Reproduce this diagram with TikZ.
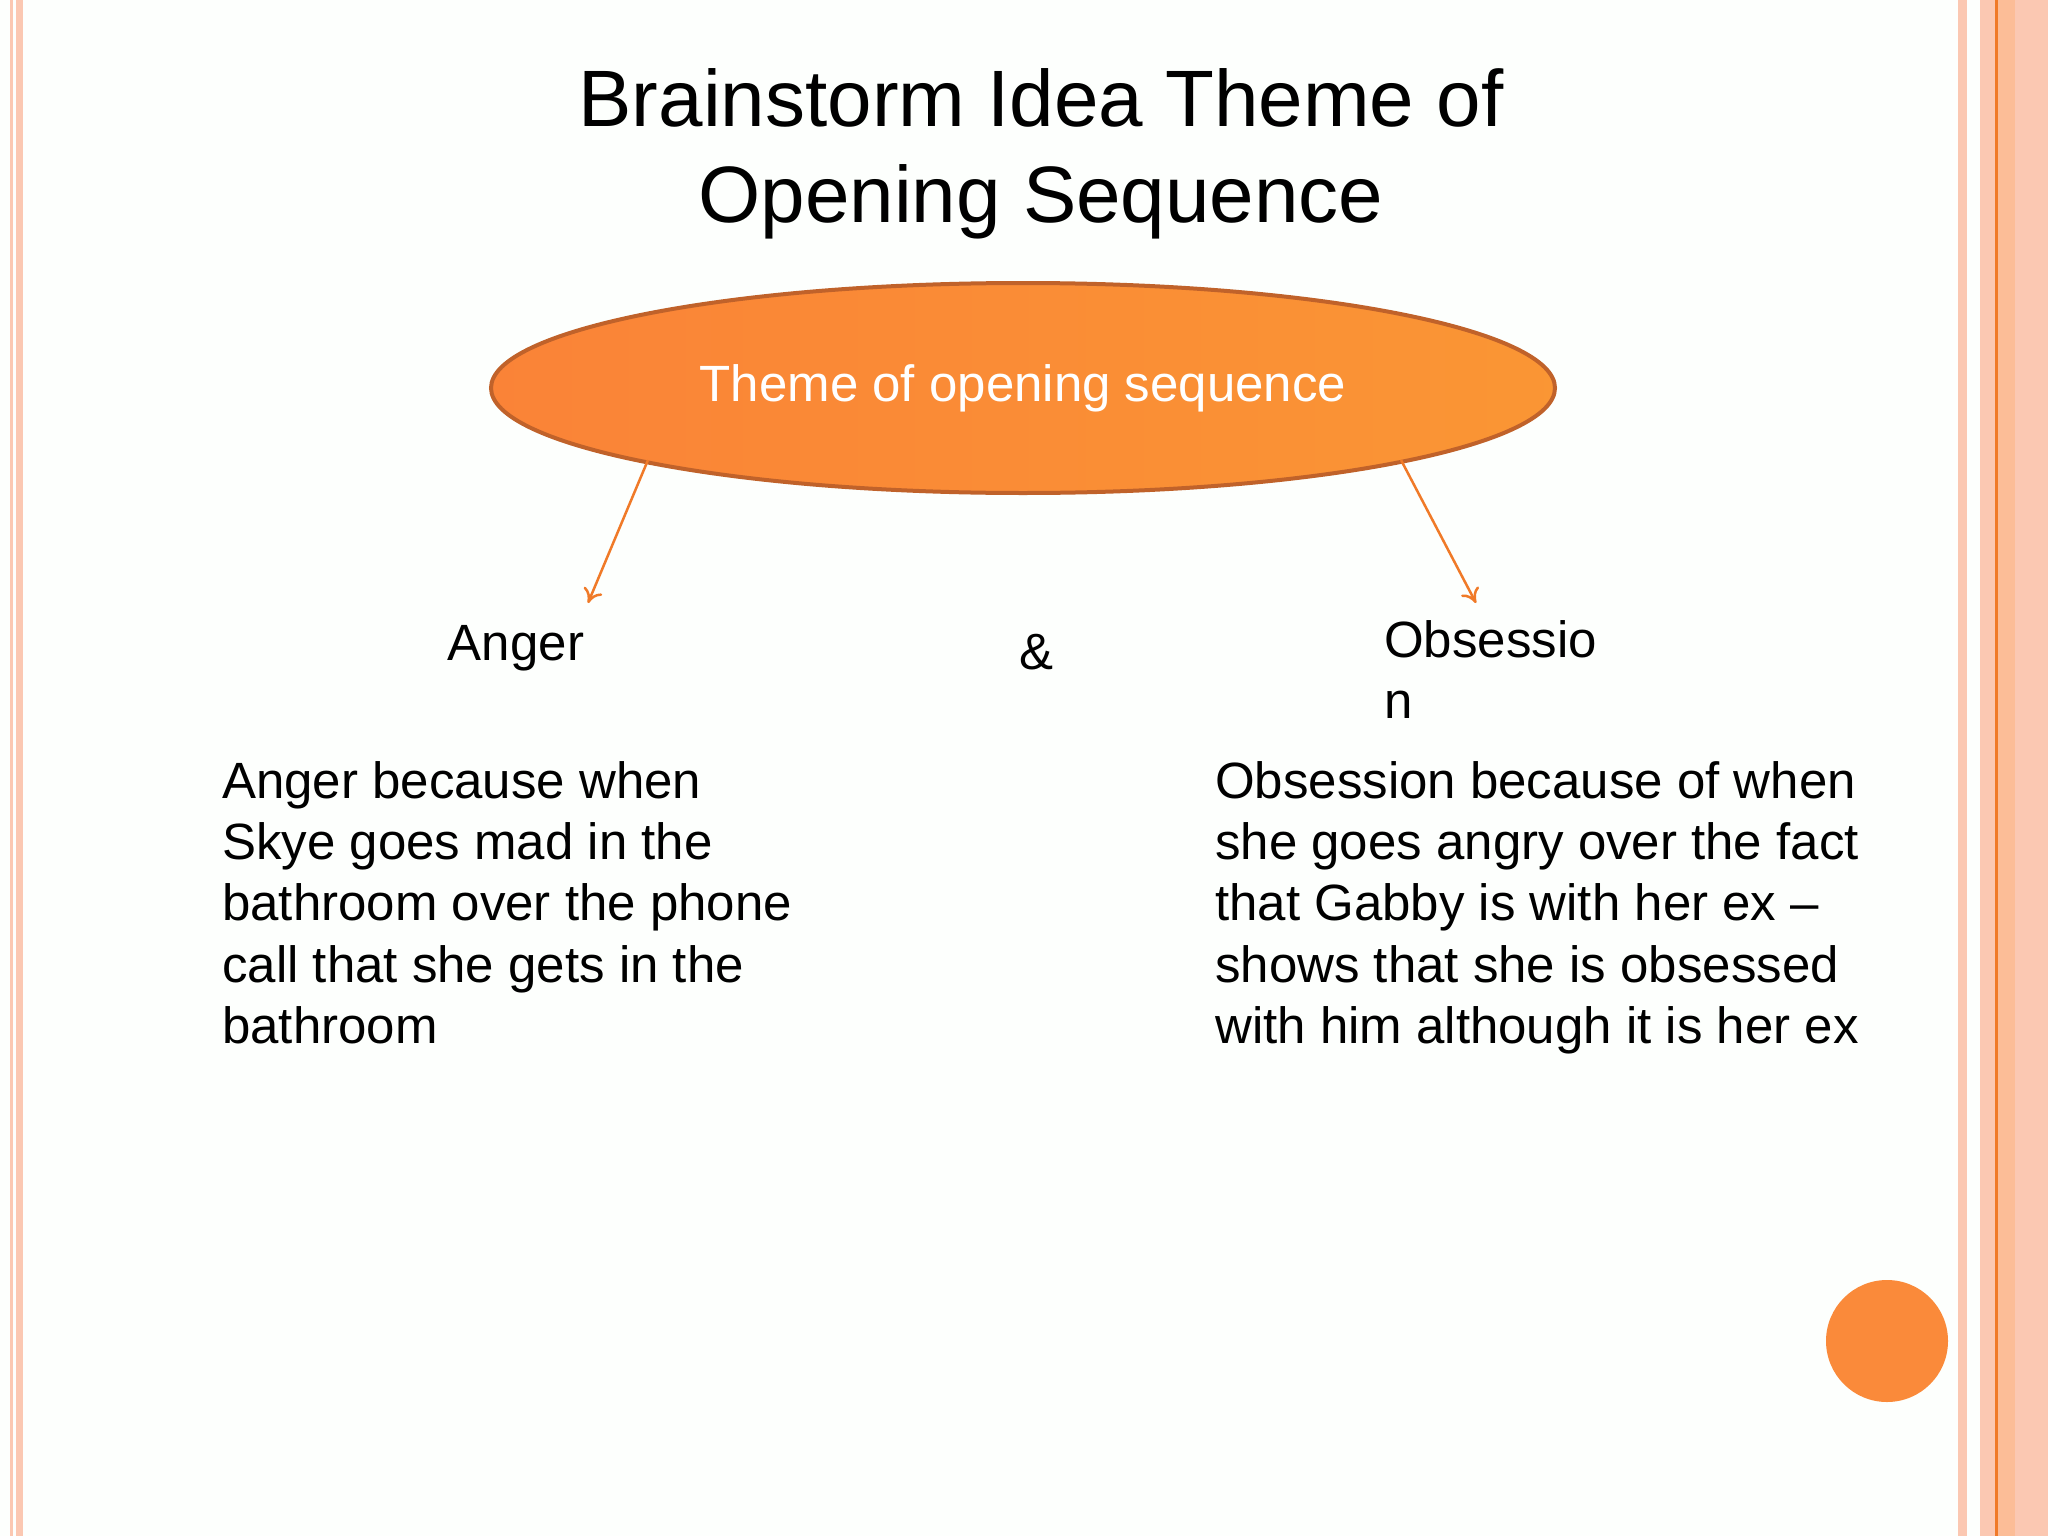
\documentclass[tikz,border=0pt]{standalone}
\usepackage{fontspec}
\setmainfont{Liberation Sans}
\usetikzlibrary{shapes.geometric,arrows.meta}
\definecolor{peach}{HTML}{FBC8B2}
\definecolor{orng}{HTML}{FA8A3A}
\definecolor{edgeor}{HTML}{C0622A}
\definecolor{arrowor}{HTML}{F07A28}
\tikzset{
  body/.style={font=\fontsize{51}{61.4}\selectfont, align=left, inner sep=0pt, anchor=north west, text=black},
  lbl/.style={font=\fontsize{51}{61.4}\selectfont, inner sep=0pt, text=black},
  conn/.style={draw=arrowor, line width=2.5pt, -{To[length=14pt,width=20pt]}}
}
\begin{document}
\begin{tikzpicture}[x=1pt,y=-1pt]
\useasboundingbox (0,0) rectangle (2048,1536);
\fill[white!97!green!20!white] (0,0) rectangle (2048,1536);
% borders
\fill[peach] (10,0) rectangle (13,1536);
\fill[peach] (16,0) rectangle (23,1536);
\fill[peach] (1958,0) rectangle (1967,1536);
\fill[peach] (1980,0) rectangle (2048,1536);
\fill[peach!85!orange] (1996,0) rectangle (2015,1536);
\fill[arrowor] (1995,0) rectangle (1998,1536);
% title
\node[font=\fontsize{80}{96}\selectfont, align=center, text=black] (title) at (1041,154) {Brainstorm Idea Theme of\\Opening Sequence};
% ellipse
\node[ellipse, draw=edgeor, line width=4pt, left color=orng!95!red, right color=orng!90!yellow, minimum width=1064pt, minimum height=210pt, font=\fontsize{51}{56}\selectfont, text=white] (theme) at (1023,388) {Theme of opening sequence};
\coordinate (la) at (588,603);
\coordinate (ra) at (1476,603);
\draw[conn] (648,460) -- (la);
\draw[conn] (1401,460) -- (ra);
\node[lbl] (anger) at (516,648) {Anger};
\node[lbl] (amp) at (1036,652) {\&};
\node[body] (obs) at (1384,620) {Obsessio\\n};
\node[body] (lt) at (222,761) {Anger because when\\Skye goes mad in the\\bathroom over the phone\\call that she gets in the\\bathroom};
\node[body] (rt) at (1215,761) {Obsession because of when\\she goes angry over the fact\\that Gabby is with her ex –\\shows that she is obsessed\\with him although it is her ex};
\fill[orng] (1887,1341) circle (61) node (dot) {};
\end{tikzpicture}
\end{document}
